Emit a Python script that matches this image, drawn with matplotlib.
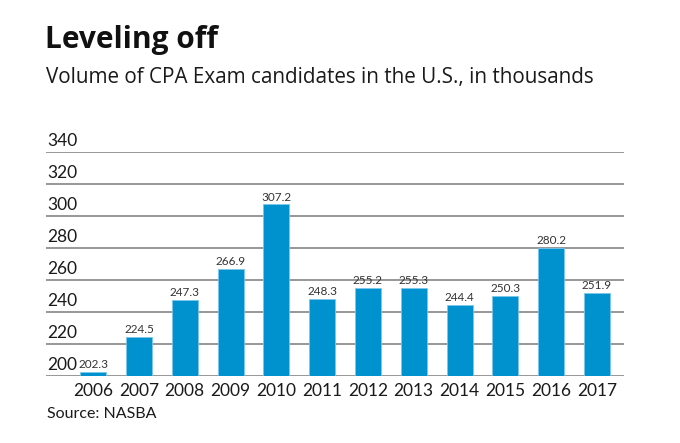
import matplotlib.pyplot as plt
import matplotlib.transforms as mtransforms

plt.rcParams['font.family'] = ['Lato', 'DejaVu Sans']

years = ["2006", "2007", "2008", "2009", "2010", "2011", "2012",
         "2013", "2014", "2015", "2016", "2017"]
candidates = [202.3, 224.5, 247.3, 266.9, 307.2, 248.3, 255.2,
              255.3, 244.4, 250.3, 280.2, 251.9]
yticks = [200, 220, 240, 260, 280, 300, 320, 340]

W, H = 680, 443
fig = plt.figure(figsize=(W / 100, H / 100), dpi=100)
ax = fig.add_axes([46 / W, 1 - 376 / H, (624 - 46) / W, (376 - 152) / H])

x = list(range(len(years)))
ax.bar(x, candidates, width=0.57, bottom=0, color="#0091cf",
       edgecolor="#7cc6ea", linewidth=0.6, zorder=3)
ax.set_ylim(200, 340)
ax.set_xlim(-1.03, 11.59)

# gridlines
for v in yticks:
    ax.axhline(v, color="#7a7a7a", linewidth=1.1, zorder=2)

# y labels sit above the gridlines
trans = mtransforms.blended_transform_factory(ax.transAxes, ax.transData)
for v in yticks:
    ax.text(0.002, v + 1.6, str(v), transform=trans, ha="left", va="bottom",
            fontsize=12.5, color="#1a1a1a", zorder=4)

# value labels
for xi, v in zip(x, candidates):
    ax.text(xi, v + 1.2, f"{v:.1f}", ha="center", va="bottom",
            fontsize=8.5, color="#333333", zorder=4)

ax.set_xticks(x)
ax.set_xticklabels(years, fontsize=12.5, color="#1a1a1a")
ax.tick_params(axis="x", length=0, pad=5)
ax.set_yticks([])
for s in ax.spines.values():
    s.set_visible(False)

fig.text(45 / W, 1 - 48 / H, "Leveling off", fontsize=21.5, fontweight="bold",
         family=["Open Sans", "DejaVu Sans"],
         color="#111111", va="baseline", ha="left")
fig.text(46 / W, 1 - 83 / H, "Volume of CPA Exam candidates in the U.S., in thousands",
         fontsize=14.9, family=["Open Sans", "DejaVu Sans"],
         color="#1a1a1a", va="baseline", ha="left")
fig.text(47 / W, 1 - 418 / H, "Source: NASBA", fontsize=11.5,
         color="#1a1a1a", va="baseline", ha="left")

fig.savefig("out.png", dpi=100)
